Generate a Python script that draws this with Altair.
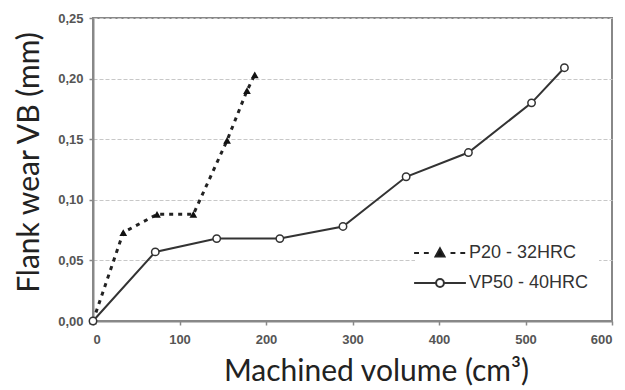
import altair as alt
import pandas as pd

series_names = ["P20 - 32HRC", "VP50 - 40HRC"]
p20_volume = [0, 35, 74, 116, 155, 178, 187]
p20_wear = [0.0, 0.073, 0.088, 0.088, 0.149, 0.190, 0.203]
vp50_volume = [0, 72, 143, 216, 289, 362, 434, 507, 545]
vp50_wear = [0.0, 0.057, 0.068, 0.068, 0.078, 0.119, 0.139, 0.180, 0.209]
x_ticks = [0, 100, 200, 300, 400, 500, 600]
y_ticks = [0.0, 0.05, 0.10, 0.15, 0.20, 0.25]

df = pd.concat([
    pd.DataFrame({"volume": p20_volume, "wear": p20_wear, "series": series_names[0],
                  "order": range(len(p20_volume))}),
    pd.DataFrame({"volume": vp50_volume, "wear": vp50_wear, "series": series_names[1],
                  "order": range(len(vp50_volume))}),
])

x = alt.X("volume:Q", scale=alt.Scale(domain=[0, 600], nice=False),
          axis=alt.Axis(values=x_ticks, title="Machined volume (cm³)", grid=False,
                        labelPadding=8,
                        titleX=283, titleY=59, titleBaseline="alphabetic", titleFontSize=30))
y = alt.Y("wear:Q", scale=alt.Scale(domain=[0, 0.25], nice=False),
          axis=alt.Axis(values=y_ticks, title="Flank wear VB (mm)", grid=True,
                        labelExpr="replace(format(datum.value, '.2f'), '.', ',')",
                        titleX=-55, titleY=144, titleAngle=270, titleBaseline="alphabetic",
                        titleAlign="center", titleFontSize=30))

base = alt.Chart(df)
p20 = alt.datum.series == series_names[0]
vp50 = alt.datum.series == series_names[1]

line_p20 = base.transform_filter(p20).mark_line(
    color="#222", strokeWidth=3, strokeDash=[4, 5]).encode(x=x, y=y, order="order:Q")
line_vp = base.transform_filter(vp50).mark_line(
    color="#333", strokeWidth=2).encode(x=x, y=y, order="order:Q")
pts_p20 = base.transform_filter(p20).mark_point(
    shape="triangle-up", filled=True, color="#111", size=60, opacity=1).encode(x=x, y=y)
pts_vp = base.transform_filter(vp50).mark_point(
    shape="circle", filled=True, fill="white", stroke="#333", strokeWidth=1.5,
    size=55, opacity=1).encode(x=x, y=y)

p20_sym = ("M-1.85,0H-1.5M-1.15,0H-0.8M0.75,0H1.1M1.45,0H1.8"
           "M0,-0.33L0.32,0.25L-0.32,0.25Z")
vp_sym = ("M-1.85,0H-0.28M0.28,0H1.85"
          "M-0.28,0A0.28,0.28 0 1,0 0.28,0A0.28,0.28 0 1,0 -0.28,0Z")

leg = alt.Legend(orient="none", legendX=322, legendY=210, title=None,
                 fillColor="white", padding=10, symbolSize=784, symbolStrokeWidth=2,
                 labelOffset=14, rowPadding=6,
                 labelFont="Liberation Sans", labelFontSize=18, labelColor="#333")

legend_layer = base.transform_filter("false").mark_point(
    filled=True, strokeWidth=2, size=784, opacity=1).encode(
    x=x, y=y,
    shape=alt.Shape("series:N", scale=alt.Scale(domain=series_names, range=[p20_sym, vp_sym]),
                    legend=leg),
    fill=alt.Fill("series:N", scale=alt.Scale(domain=series_names, range=["#111", "white"]),
                  legend=leg),
    stroke=alt.Stroke("series:N", scale=alt.Scale(domain=series_names, range=["#222", "#333"]),
                      legend=leg),
)

chart = alt.layer(line_p20, line_vp, pts_p20, pts_vp, legend_layer).properties(
    width=519, height=303,
    autosize=alt.AutoSizeParams(type="none"),
    padding={"left": 85, "top": 10, "right": 5, "bottom": 68},
).configure_view(stroke="#888", strokeWidth=2).configure_axis(
    domainColor="#888", domainWidth=2, tickColor="#888", tickSize=4, tickWidth=1.5,
    labelFont="Liberation Sans", labelFontSize=13, labelColor="#555", labelFontWeight="bold",
    labelPadding=6,
    gridColor="#c8c8c8", gridDash=[4, 2], gridWidth=1.2,
    titleFont="Lato", titleFontSize=31, titleFontWeight="normal", titleColor="#222",
)

chart.save("out.html", embed_options={"renderer": "svg", "actions": False})
